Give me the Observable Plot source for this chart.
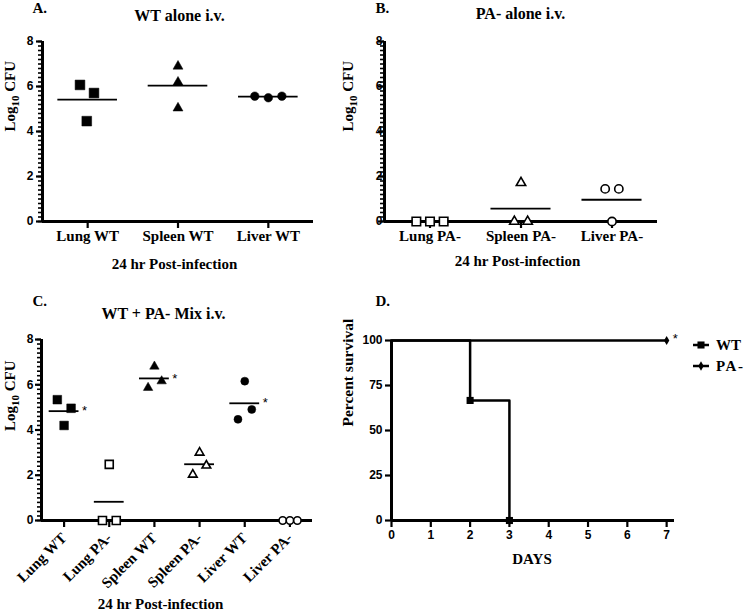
<!DOCTYPE html>
<html><head><meta charset="utf-8">
<script src="https://cdn.jsdelivr.net/npm/d3@7"></script>
<script src="https://cdn.jsdelivr.net/npm/@observablehq/plot@0.6"></script>
<style>
body{margin:0;background:#fff;}
#wrap{position:relative;width:750px;height:611px;overflow:hidden;background:#fff;}
#wrap svg{position:absolute;overflow:visible;}
</style></head><body><div id="wrap"></div>
<script>
const SERIF = "'Liberation Serif','Times New Roman',serif";
const SANS = "'Liberation Sans',Arial,sans-serif";

// ---------- Panel A: WT alone i.v. ----------
const catsA = ["Lung WT", "Spleen WT", "Liver WT"];
const groupA = [0, 0, 0, 1, 1, 1, 2, 2, 2];
const valuesA = [6.07, 5.71, 4.46, 6.9, 6.19, 5.04, 5.57, 5.5, 5.57];
const jitterA = [-0.085, 0.07, -0.01, 0, 0, 0, -0.15, 0, 0.15];
const shapesA = ["square", "triangle", "circle"];
const filledA = [true, true, true];

// ---------- Panel B: PA- alone i.v. ----------
const catsB = ["Lung PA-", "Spleen PA-", "Liver PA-"];
const groupB = [0, 0, 0, 1, 1, 1, 2, 2, 2];
const valuesB = [0, 0, 0, 1.72, 0, 0, 1.45, 1.45, 0];
const jitterB = [-0.15, 0, 0.15, 0, -0.073, 0.073, -0.075, 0.075, 0];
const shapesB = ["square", "triangle", "circle"];
const filledB = [false, false, false];

// ---------- Panel C: WT + PA- Mix i.v. ----------
const catsC = ["Lung WT", "Lung PA-", "Spleen WT", "Spleen PA-", "Liver WT", "Liver PA-"];
const groupC = [0, 0, 0, 1, 1, 1, 2, 2, 2, 3, 3, 3, 4, 4, 4, 5, 5, 5];
const valuesC = [5.34, 4.96, 4.2, 2.48, 0, 0, 6.81, 6.16, 5.87, 3.0, 2.43, 2.03, 6.16, 4.91, 4.47, 0, 0, 0];
const jitterC = [-0.15, 0.155, 0, 0, -0.15, 0.155, 0, 0.16, -0.14, 0, 0.15, -0.15, 0, 0.155, -0.15, -0.16, 0, 0.165];
const shapesC = ["square", "square", "triangle", "triangle", "circle", "circle"];
const filledC = [true, false, true, false, true, false];
const starsC = [true, false, true, false, true, false];

const cfuTicks = [0, 2, 4, 6, 8];
const cfuMinor = d3.range(0, 41).map(i => i / 5);

// ---------- Panel D: survival ----------
const daysWT = [0, 2, 3];
const survWT = [100, 66.7, 0];
const daysPA = [0, 7];
const survPA = [100, 100];
const survTicks = [0, 25, 50, 75, 100];
const dayTicks = [0, 1, 2, 3, 4, 5, 6, 7];
const legendItems = ["WT", "PA-"];

const SYM = {square: d3.symbolSquare, triangle: d3.symbolTriangle, circle: d3.symbolCircle, diamond: d3.symbolDiamond};
const wrap = document.getElementById("wrap");

function txt(s, o) {
  return Plot.text([s], {text: d => d, fontFamily: SERIF, fontWeight: "bold", fill: "black", lineAnchor: "bottom", ...o});
}

function place(svg, left, top) {
  svg.style.left = left + "px";
  svg.style.top = top + "px";
  wrap.appendChild(svg);
}

function dotPanel(c) {
  const rows = c.values.map((v, i) => ({g: c.group[i], v, x: c.group[i] + c.jitter[i]}));
  const means = c.cats.map((cat, g) => ({g, m: d3.mean(rows.filter(r => r.g === g), r => r.v)}));
  const n = c.cats.length;
  const marks = [
    Plot.axisY({ticks: cfuMinor, tickSize: 4, tickFormat: () => "", strokeWidth: 1.6, label: null}),
    Plot.axisY({ticks: cfuTicks, tickSize: 6, tickFormat: () => "", strokeWidth: 2.2, label: null}),
    Plot.axisY({ticks: cfuTicks, tickSize: 0, tickPadding: c.yPad, fontFamily: SANS, fontWeight: "bold", fontSize: 12, fill: "black", label: null}),
    Plot.axisX({ticks: d3.range(n), tickSize: 7, strokeWidth: 2.2, tickPadding: c.xPad, tickRotate: c.rotate || 0,
      tickFormat: i => c.cats[i], fontFamily: SERIF, fontWeight: "bold", fontSize: 15, fill: "black", label: null}),
    Plot.ruleY(means, {y: "m", x1: d => d.g - 0.33, x2: d => d.g + 0.33, strokeWidth: 1.8, stroke: "black"}),
    Plot.ruleX([-0.5], {strokeWidth: 3}),
    Plot.ruleY([0], {strokeWidth: 3})
  ];
  c.cats.forEach((cat, g) => {
    const sh = c.shapes[g];
    marks.push(Plot.dot(rows.filter(r => r.g === g), {
      x: "x", y: "v", symbol: SYM[sh], r: c.r[sh] * (c.filled[g] ? 1 : 0.92),
      fill: c.filled[g] ? "black" : "white", stroke: "black", strokeWidth: c.filled[g] ? 0.5 : 1.6
    }));
  });
  if (c.stars) {
    marks.push(Plot.text(means.filter(d => c.stars[d.g]), {
      x: d => d.g + 0.33, y: "m", text: () => "*", dx: 3, textAnchor: "start", lineAnchor: "middle",
      fontFamily: SANS, fontSize: 13, fill: "black"
    }));
  }
  marks.push(...c.labels);
  const svg = Plot.plot({
    width: 375, height: c.height,
    marginLeft: c.mL, marginRight: c.mR, marginTop: c.mT, marginBottom: c.mB,
    x: {type: "linear", domain: [-0.5, n - 0.5]},
    y: {domain: [0, 8], label: null},
    style: {background: "transparent", overflow: "visible", color: "black"},
    marks
  });
  return svg;
}

// Panel A
place(dotPanel({
  cats: catsA, group: groupA, values: valuesA, jitter: jitterA, shapes: shapesA, filled: filledA,
  r: {square: 5.5, triangle: 3.7, circle: 4.3},
  height: 300, mL: 42, mR: 62, mT: 41, mB: 79, yPad: 9, xPad: 2,
  labels: [
    txt("A.", {frameAnchor: "top-left", textAnchor: "start", dx: -10, dy: -29, fontSize: 15}),
    txt("WT alone i.v.", {frameAnchor: "top", dx: 1.5, dy: -21, fontSize: 16}),
    txt("24 hr Post-infection", {frameAnchor: "bottom", dx: -3.5, dy: 47, fontSize: 15}),
    txt("Log10 CFU", {frameAnchor: "left", rotate: -90, lineAnchor: "middle", dx: -32, fontSize: 15})
  ]
}), 0, 0);

// Panel B
place(dotPanel({
  cats: catsB, group: groupB, values: valuesB, jitter: jitterB, shapes: shapesB, filled: filledB,
  r: {square: 5.2, triangle: 3.8, circle: 4.5},
  height: 300, mL: 9, mR: 93, mT: 41, mB: 79, yPad: 2, xPad: 2,
  labels: [
    txt("B.", {frameAnchor: "top-left", textAnchor: "start", dx: -9, dy: -29, fontSize: 15}),
    txt("PA- alone i.v.", {frameAnchor: "top", dx: -0.5, dy: -23, fontSize: 16}),
    txt("24 hr Post-infection", {frameAnchor: "bottom", dx: -3.5, dy: 44, fontSize: 15}),
    txt("Log10 CFU", {frameAnchor: "left", rotate: -90, lineAnchor: "middle", dx: -36, fontSize: 15})
  ]
}), 375, 0);

// Panel C
place(dotPanel({
  cats: catsC, group: groupC, values: valuesC, jitter: jitterC, shapes: shapesC, filled: filledC, stars: starsC,
  r: {square: 4.9, triangle: 3.5, circle: 4.0},
  height: 326, mL: 41, mR: 63, mT: 54, mB: 91, yPad: 8, xPad: 8, rotate: -45,
  labels: [
    txt("C.", {frameAnchor: "top-left", textAnchor: "start", dx: -9, dy: -34, fontSize: 15}),
    txt("WT + PA- Mix i.v.", {frameAnchor: "top", dx: -13.5, dy: -21, fontSize: 16}),
    txt("24 hr Post-infection", {frameAnchor: "bottom", dx: -16.5, dy: 88, fontSize: 15}),
    txt("Log10 CFU", {frameAnchor: "left", rotate: -90, lineAnchor: "middle", dx: -31, dy: 1, fontSize: 15})
  ]
}), 0, 285);

// Panel D
const wtRows = daysWT.map((d, i) => ({day: d, s: survWT[i]}));
const paRows = daysPA.map((d, i) => ({day: d, s: survPA[i]}));
const svgD = Plot.plot({
  width: 375, height: 326,
  marginLeft: 16, marginRight: 76, marginTop: 55, marginBottom: 91,
  x: {domain: [0, 7.2]},
  y: {domain: [0, 100], label: null},
  style: {background: "transparent", overflow: "visible", color: "black"},
  marks: [
    Plot.axisY({ticks: survTicks, tickSize: 6, tickFormat: () => "", strokeWidth: 2.2, label: null}),
    Plot.axisY({ticks: survTicks, tickSize: 0, tickPadding: 9, fontFamily: SANS, fontWeight: "bold", fontSize: 12, fill: "black", label: null}),
    Plot.axisX({ticks: dayTicks, tickSize: 7, strokeWidth: 2.2, tickPadding: 3, fontFamily: SANS, fontWeight: "bold", fontSize: 12, fill: "black", label: null}),
    Plot.ruleX([0], {strokeWidth: 3}),
    Plot.ruleY([0], {strokeWidth: 3}),
    Plot.line(paRows, {x: "day", y: "s", curve: "step-after", strokeWidth: 2.5, stroke: "black"}),
    Plot.line(wtRows, {x: "day", y: "s", curve: "step-after", strokeWidth: 2.5, stroke: "black"}),
    Plot.dot(wtRows.filter(d => d.day > 0), {x: "day", y: "s", symbol: d3.symbolSquare, r: 4, fill: "black"}),
    Plot.dot(paRows.filter(d => d.day > 0), {x: "day", y: "s", symbol: d3.symbolDiamond, r: 2.8, fill: "black"}),
    Plot.text(paRows.filter(d => d.day > 0), {x: "day", y: "s", text: () => "*", dx: 6, dy: -2, textAnchor: "start", lineAnchor: "middle", fontFamily: SANS, fontSize: 13, fill: "black"}),
    txt("D.", {frameAnchor: "top-left", textAnchor: "start", dx: -16, dy: -35, fontSize: 15}),
    txt("DAYS", {frameAnchor: "bottom", dx: -1, dy: 43, fontSize: 15}),
    txt("Percent survival", {frameAnchor: "left", rotate: -90, lineAnchor: "middle", dx: -43, dy: -4, fontSize: 15.5})
  ]
});
place(svgD, 375, 285);

// Legend for panel D
const leg = d3.select(wrap).append("svg").attr("width", 60).attr("height", 40)
  .style("left", "690px").style("top", "333px");
const legSyms = [d3.symbolSquare, d3.symbolDiamond];
const legSizes = [50, 25];
legendItems.forEach((name, i) => {
  const g = leg.append("g").attr("transform", `translate(0,${12 + i * 21})`);
  g.append("line").attr("x1", 3).attr("x2", 19).attr("stroke", "black").attr("stroke-width", 2.5);
  g.append("path").attr("d", d3.symbol(legSyms[i], legSizes[i])()).attr("transform", "translate(11,0)").attr("fill", "black");
  g.append("text").attr("x", 26).attr("y", 5).attr("font-family", SERIF).attr("font-weight", "bold")
    .attr("font-size", 15).attr("letter-spacing", i === 1 ? 1.5 : 0).text(name);
});

// Subscript for Log10 CFU
d3.selectAll("#wrap text").filter(function () { return this.textContent === "Log10 CFU"; }).each(function () {
  const t = d3.select(this);
  t.text(null);
  t.append("tspan").text("Log");
  t.append("tspan").attr("dy", 4).attr("font-size", 11).text("10");
  t.append("tspan").attr("dy", -4).text(" CFU");
});
</script>
</body></html>
